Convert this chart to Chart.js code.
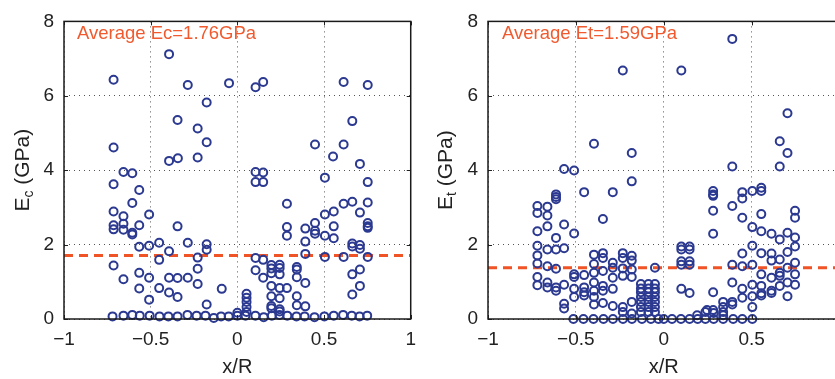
<!DOCTYPE html>
<html>
<head>
    <title>Ec and Et vs x/R</title>
    <script src="https://cdn.jsdelivr.net/npm/chart.js"></script>
    <style>
        html, body {
            margin: 0;
            padding: 0;
            background: #ffffff;
            overflow: hidden;
            width: 835px;
            height: 379px;
        }
        canvas {
            position: absolute;
            top: 0;
        }
        #left { left: 0; }
        #right { left: 420px; }
    </style>
</head>
<body>
<canvas id="left" width="425" height="379"></canvas>
<canvas id="right" width="430" height="379"></canvas>

<script>
    // axis ticks
    var xTicks = [-1, -0.5, 0, 0.5, 1];
    var yTicks = [0, 2, 4, 6, 8];

    // left panel: compression modulus Ec (GPa) against x/R
    var ecX = [
        -0.394, -0.714, -0.286, -0.048, -0.177, -0.345, -0.229, -0.177, -0.714, -0.394, -0.343, -0.229, -0.657, -0.606,
        0.105, 0.149, 0.613, 0.752, 0.663, 0.448, 0.613, 0.552, 0.707, 0.105, 0.149, 0.105, 0.149, 0.505, 0.752,
        0.286, 0.613, 0.663, 0.752, 0.505, 0.556, 0.707, 0.286, 0.286, 0.392, 0.448, 0.448, 0.448, 0.556, 0.505,
        0.556, 0.392, 0.752, 0.752, 0.752, 0.663, 0.663, 0.707, 0.707, 0.392, 0.505, 0.613, 0.752, 0.105, 0.149,
        0.105, 0.149, 0.196, 0.196, 0.196, 0.244, 0.244, 0.244, 0.343, 0.343, 0.343, 0.392, 0.663, 0.707, 0.707,
        0.663, 0.196, 0.244, 0.286, 0.196, 0.244, 0.343, 0.343, 0.392, 0.196, 0.196, 0.244, 0.244,
        0.053, 0.053, 0.053, 0.053, 0.053, 0.0,
        -0.714, -0.566, -0.606, -0.714, -0.657, -0.509, -0.714, -0.714, -0.657, -0.657, -0.606, -0.606, -0.566,
        -0.345, -0.566, -0.509, -0.451, -0.286, -0.177, -0.177, -0.394, -0.451, -0.229, -0.714, -0.229, -0.657,
        -0.566, -0.509, -0.394, -0.345, -0.286, -0.229, -0.566, -0.451, -0.394, -0.345, -0.509, -0.177, -0.09,
        -0.720, -0.657, -0.606, -0.563, -0.506, -0.449, -0.398, -0.345, -0.288, -0.235, -0.184, -0.136, -0.094,
        -0.050, 0.0, 0.047, 0.104, 0.152, 0.199, 0.243, 0.288, 0.341, 0.388, 0.445, 0.502, 0.556, 0.610, 0.660,
        0.705, 0.749
    ];
    var ecY = [
        7.12, 6.43, 6.29, 6.34, 5.82, 5.35, 5.12, 4.75, 4.61, 4.25, 4.32, 4.34, 3.95, 3.92,
        6.23, 6.37, 6.37, 6.29, 5.32, 4.69, 4.69, 4.37, 4.17, 3.95, 3.94, 3.68, 3.68, 3.80, 3.68,
        3.10, 3.10, 3.15, 3.13, 2.81, 2.89, 2.86, 2.47, 2.24, 2.43, 2.58, 2.37, 2.29, 2.49, 2.24,
        2.17, 2.08, 2.58, 2.49, 2.45, 2.03, 1.95, 1.99, 1.89, 1.75, 1.67, 1.67, 1.67, 1.64, 1.59,
        1.31, 1.11, 1.45, 1.36, 1.23, 1.46, 1.37, 1.20, 1.40, 1.33, 1.12, 0.97, 1.20, 1.33, 0.89,
        0.66, 0.89, 0.83, 0.83, 0.61, 0.56, 0.61, 0.37, 0.34, 0.35, 0.29, 0.26, 0.20,
        0.68, 0.57, 0.46, 0.32, 0.19, 0.17,
        3.62, 3.47, 3.12, 2.89, 2.76, 2.81, 2.52, 2.41, 2.56, 2.40, 2.32, 2.27, 2.52,
        2.49, 1.94, 1.97, 2.05, 2.05, 2.01, 1.86, 1.82, 1.59, 1.65, 1.44, 1.35, 1.07,
        1.24, 1.11, 1.11, 1.10, 1.11, 0.94, 0.82, 0.83, 0.71, 0.59, 0.52, 0.39, 0.81,
        0.07, 0.09, 0.11, 0.09, 0.09, 0.07, 0.07, 0.07, 0.11, 0.09, 0.09, 0.03, 0.07,
        0.07, 0.09, 0.09, 0.09, 0.05, 0.09, 0.11, 0.09, 0.07, 0.07, 0.05, 0.07, 0.09, 0.11, 0.09,
        0.07, 0.09
    ];

    // right panel: tension modulus Et (GPa) against x/R
    var etX = [
        -0.233, -0.397, -0.182, -0.567, -0.510, 0.100, 0.390, 0.704, 0.660, 0.704, 0.390, 0.660,
        -0.182, -0.453, -0.290, -0.613, -0.613, -0.613, -0.719, -0.719, -0.662, -0.662, -0.567, -0.662,
        -0.719, -0.346, -0.510, -0.613, -0.719, -0.719, -0.719, -0.662, -0.613, -0.567, -0.662, -0.613,
        -0.719, -0.719, -0.662, -0.662, -0.613, -0.613, -0.567, -0.567, -0.567, -0.510, -0.510, -0.510,
        -0.510, -0.453, -0.453, -0.453, -0.453,
        -0.397, -0.397, -0.397, -0.397, -0.397, -0.397, -0.397,
        -0.346, -0.346, -0.346, -0.346, -0.346, -0.346,
        -0.290, -0.290, -0.290, -0.290, -0.290,
        -0.233, -0.233, -0.233, -0.233, -0.233, -0.233,
        -0.182, -0.182, -0.182, -0.182, -0.182, -0.182,
        -0.130, -0.130, -0.130, -0.130, -0.130, -0.130, -0.130,
        -0.087, -0.087, -0.087, -0.087, -0.087, -0.087, -0.087,
        -0.050, -0.050, -0.050, -0.050, -0.050, -0.050, -0.050, -0.050,
        0.100, 0.100, 0.100, 0.100, 0.100,
        0.147, 0.147, 0.147, 0.147, 0.147,
        0.281, 0.281, 0.281, 0.281, 0.281, 0.281, 0.281,
        0.390, 0.390, 0.390, 0.390, 0.390,
        0.447, 0.447, 0.447, 0.447, 0.447, 0.447, 0.447,
        0.504, 0.504, 0.504, 0.504, 0.504, 0.504, 0.504,
        0.555, 0.555, 0.555, 0.555, 0.555, 0.555, 0.555, 0.555, 0.555,
        0.613, 0.613, 0.613, 0.613, 0.613, 0.613,
        0.660, 0.660, 0.660, 0.660, 0.660,
        0.704, 0.704, 0.704, 0.704, 0.704,
        0.747, 0.747, 0.747, 0.747, 0.747, 0.747, 0.747,
        0.338, 0.338, 0.338, 0.338, 0.237, 0.190, 0.246, 0.284,
        -0.514, -0.457, -0.400, -0.343, -0.289, -0.232, -0.181, -0.124, -0.073, -0.030, 0.0, 0.047, 0.098,
        0.147, 0.193, 0.237, 0.284, 0.338, 0.395, 0.447, 0.504
    ];
    var etY = [
        6.68, 4.71, 4.46, 4.03, 3.99, 6.68, 7.53, 5.53, 4.78, 4.46, 4.10, 4.10,
        3.70, 3.41, 3.41, 3.35, 3.28, 3.22, 3.04, 2.85, 3.02, 2.78, 2.54, 2.49,
        2.36, 2.69, 2.30, 2.18, 1.97, 1.71, 1.49, 1.87, 1.87, 1.90, 1.42, 1.35,
        1.13, 0.91, 0.98, 0.85, 0.85, 0.76, 0.92, 0.41, 0.28, 1.20, 1.13, 0.81,
        0.59, 1.18, 0.85, 0.72, 0.63,
        1.73, 1.48, 1.24, 0.98, 0.76, 0.59, 0.39,
        1.77, 1.64, 1.29, 0.89, 0.76, 0.43,
        1.51, 1.38, 1.11, 0.81, 0.35,
        1.77, 1.64, 1.36, 1.16, 0.32, 0.19,
        1.70, 1.57, 1.33, 1.13, 0.46, 0.15,
        0.94, 0.82, 0.72, 0.59, 0.46, 0.32, 0.19,
        0.94, 0.82, 0.72, 0.59, 0.46, 0.32, 0.19,
        1.38, 0.94, 0.82, 0.72, 0.59, 0.46, 0.32, 0.19,
        1.95, 1.87, 1.55, 1.46, 0.81,
        1.95, 1.87, 1.55, 1.46, 0.70,
        3.44, 3.35, 3.31, 2.91, 2.29, 0.72, 0.24,
        3.04, 1.46, 0.98, 0.46, 0.39,
        3.41, 3.24, 2.72, 1.76, 1.42, 0.81, 0.57,
        3.44, 2.47, 1.97, 1.46, 0.92, 0.61, 0.32,
        3.53, 3.44, 2.82, 2.36, 1.77, 1.20, 0.89, 0.69, 0.63,
        2.29, 1.76, 1.57, 1.11, 0.76, 0.70,
        2.14, 1.60, 1.24, 1.16, 0.89,
        2.32, 1.80, 1.38, 0.98, 0.61,
        2.91, 2.72, 2.19, 1.95, 1.51, 1.20, 0.92,
        0.46, 0.32, 0.19, 0.10, 0.19, 0.10, 0.24, 0.16,
        0, 0, 0, 0, 0, 0, 0, 0, 0, 0, 0, 0, 0,
        0, 0, 0, 0, 0, 0, 0, 0
    ];

    // dashed average lines (level as drawn) and their notes
    var ecLine = 1.71;
    var etLine = 1.38;
    var ecNote = 'Average Ec=1.76GPa';
    var etNote = 'Average Et=1.59GPa';

    var FONT = '"Liberation Sans", Arial, Helvetica, sans-serif';
    var markerColor = '#2b3990';
    var noteColor = '#f05a2e';

    function toPoints(xs, ys) {
        return xs.map(function (x, i) { return {x: x, y: ys[i]}; });
    }

    function fmtTick(v) {
        return String(v).replace('-', '\u2212');
    }

    // box, inward tick marks, y title with subscript, and the note
    function panelPlugin(titleX, sub, noteX, note) {
        return {
            id: 'panel',
            afterDraw: function (chart) {
                var ctx = chart.ctx;
                var a = chart.chartArea;
                ctx.save();
                // inward ticks
                ctx.strokeStyle = '#222';
                ctx.lineWidth = 1;
                var tl = 4;
                xTicks.forEach(function (t) {
                    var px = Math.round(chart.scales.x.getPixelForValue(t)) + 0.5;
                    ctx.beginPath();
                    ctx.moveTo(px, a.bottom); ctx.lineTo(px, a.bottom - tl);
                    ctx.moveTo(px, a.top); ctx.lineTo(px, a.top + tl);
                    ctx.stroke();
                });
                yTicks.forEach(function (t) {
                    var py = Math.round(chart.scales.y.getPixelForValue(t)) + 0.5;
                    ctx.beginPath();
                    ctx.moveTo(a.left, py); ctx.lineTo(a.left + tl, py);
                    ctx.moveTo(a.right, py); ctx.lineTo(a.right - tl, py);
                    ctx.stroke();
                });
                // box
                ctx.lineWidth = 1.5;
                ctx.strokeStyle = '#1a1a1a';
                ctx.strokeRect(a.left, a.top, a.right - a.left, a.bottom - a.top);

                // y axis title
                var cy = (a.top + a.bottom) / 2;
                ctx.translate(titleX, cy);
                ctx.rotate(-Math.PI / 2);
                ctx.fillStyle = '#222';
                ctx.textBaseline = 'alphabetic';
                ctx.textAlign = 'left';
                var big = '21px ' + FONT;
                var small = '14px ' + FONT;
                ctx.font = big;
                var w1 = ctx.measureText('E').width;
                var w3 = ctx.measureText(' (GPa)').width;
                ctx.font = small;
                var w2 = ctx.measureText(sub).width;
                var x = -(w1 + w2 + w3) / 2;
                ctx.font = big;
                ctx.fillText('E', x, 7);
                ctx.font = small;
                ctx.fillText(sub, x + w1, 11);
                ctx.font = big;
                ctx.fillText(' (GPa)', x + w1 + w2, 7);
                ctx.restore();

                // note
                ctx.save();
                ctx.font = '18.5px ' + FONT;
                ctx.fillStyle = noteColor;
                ctx.textBaseline = 'middle';
                ctx.textAlign = 'left';
                ctx.fillText(note, noteX, 34);
                ctx.restore();
            }
        };
    }

    function makeChart(id, xs, ys, level, yAxisWidth, padRight, titleX, sub, noteX, note, hideOne) {
        var ctx = document.getElementById(id).getContext('2d');
        return new Chart(ctx, {
            type: 'scatter',
            data: {
                datasets: [{
                    data: toPoints(xs, ys),
                    pointStyle: 'circle',
                    pointRadius: 4,
                    pointBorderWidth: 2,
                    pointBorderColor: markerColor,
                    pointBackgroundColor: 'rgba(0,0,0,0)',
                    clip: false
                }, {
                    type: 'line',
                    data: [{x: -1, y: level}, {x: 1, y: level}],
                    borderColor: '#ef5326',
                    borderWidth: 3,
                    borderDash: [9, 6],
                    pointRadius: 0,
                    fill: false
                }]
            },
            options: {
                responsive: false,
                animation: false,
                events: [],
                layout: {padding: {top: 15, left: 0, right: padRight, bottom: 0}},
                plugins: {legend: {display: false}, tooltip: {enabled: false}},
                scales: {
                    x: {
                        type: 'linear',
                        min: -1,
                        max: 1,
                        afterBuildTicks: function (s) { s.ticks = xTicks.map(function (v) { return {value: v}; }); },
                        afterFit: function (s) { s.height = 60; },
                        grid: {color: '#555', lineWidth: 1, drawTicks: false},
                        border: {display: false, dash: [1, 4]},
                        ticks: {
                            padding: 9,
                            maxRotation: 0,
                            autoSkip: false,
                            color: '#222',
                            font: {family: FONT, size: 19},
                            callback: function (v) { return (hideOne && v === 1) ? '' : fmtTick(v); }
                        },
                        title: {
                            display: true,
                            text: 'x/R',
                            color: '#222',
                            font: {family: FONT, size: 20},
                            padding: 0
                        }
                    },
                    y: {
                        min: 0,
                        max: 8,
                        afterBuildTicks: function (s) { s.ticks = yTicks.map(function (v) { return {value: v}; }); },
                        afterFit: function (s) { s.width = yAxisWidth; },
                        grid: {color: '#555', lineWidth: 1, drawTicks: false},
                        border: {display: false, dash: [1, 4]},
                        ticks: {
                            padding: 10,
                            color: '#222',
                            font: {family: FONT, size: 19}
                        }
                    }
                }
            },
            plugins: [panelPlugin(titleX, sub, noteX, note)]
        });
    }

    makeChart('left', ecX, ecY, ecLine, 64, 8.5, 22, 'c', 77, ecNote, false);
    makeChart('right', etX, etY, etLine, 68, 10.5, 25, 't', 82, etNote, true);
</script>
</body>
</html>
